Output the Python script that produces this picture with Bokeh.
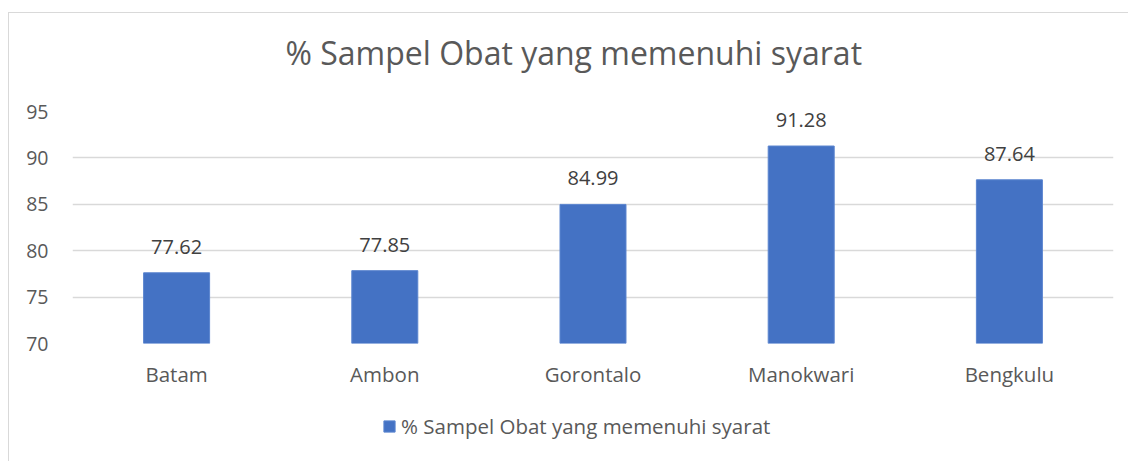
from bokeh.plotting import figure
from bokeh.models import ColumnDataSource, FixedTicker, Range1d, Legend, LegendItem, FactorRange
from bokeh.layouts import column
from bokeh.embed import file_html
from bokeh.resources import INLINE
from bokeh.core.properties import value

categories = ["Batam", "Ambon", "Gorontalo", "Manokwari", "Bengkulu"]
values = [77.62, 77.85, 84.99, 91.28, 87.64]
series_name = "% Sampel Obat yang memenuhi syarat"
chart_title = "% Sampel Obat yang memenuhi syarat"
y_ticks = [70, 75, 80, 85, 90, 95]
y_min, y_max = 70, 95

FONT = "Open Sans"
TEXT = "#595959"
BAR = "#4472C4"
BAR_EDGE = "#5b85cf"
GRID = "#d9d9d9"

src = ColumnDataSource(dict(
    cat=categories,
    val=values,
    lab=[f"{v:.2f}" for v in values],
))

p = figure(
    x_range=FactorRange(*categories, range_padding=0),
    y_range=Range1d(y_min, y_max),
    width=1119, height=382,
    output_backend="svg", toolbar_location=None,
    min_border_left=63, min_border_right=15,
    min_border_top=98, min_border_bottom=52,
)
p.outline_line_color = None
p.background_fill_color = "white"
p.border_fill_color = "white"

bars = p.vbar(x="cat", top="val", bottom=y_min, width=0.317, source=src,
              fill_color=BAR, line_color=BAR_EDGE, line_width=1)

p.text(x="cat", y="val", text="lab", source=src, text_align="center",
       text_baseline="alphabetic", y_offset=-26,
       text_font=value(FONT), text_font_size="20px", text_color="#404040")

p.title.text = chart_title
p.title.align = "left"
p.title.offset = 213
p.title.text_font = FONT
p.title.text_font_size = "32px"
p.title.text_font_style = "normal"
p.title.text_color = TEXT
p.title.standoff = 31
p.title.padding = (0, 0, 0, 22)   # left, right, top, bottom

p.yaxis.ticker = FixedTicker(ticks=y_ticks)
p.yaxis.axis_line_color = None
p.yaxis.major_tick_line_color = None
p.yaxis.minor_tick_line_color = None
p.yaxis.major_tick_out = 0
p.yaxis.major_tick_in = 0
p.yaxis.major_label_standoff = 24
p.yaxis.major_label_text_font = FONT
p.yaxis.major_label_text_font_size = "19.5px"
p.yaxis.major_label_text_color = TEXT

p.xaxis.axis_line_color = None
p.xaxis.major_tick_line_color = None
p.xaxis.minor_tick_line_color = None
p.xaxis.major_tick_out = 0
p.xaxis.major_tick_in = 0
p.xaxis.major_label_standoff = 16
p.xaxis.major_label_text_font = FONT
p.xaxis.major_label_text_font_size = "20.5px"
p.xaxis.major_label_text_color = TEXT

p.xgrid.grid_line_color = None
p.ygrid.grid_line_color = GRID
p.ygrid.grid_line_width = 1.5

# legend strip below the chart (the swatch renderer sits outside its visible range)
p2 = figure(width=1119, height=66, output_backend="svg", toolbar_location=None,
            x_axis_location=None, y_axis_location=None, min_border=0,
            min_border_left=0, min_border_right=0, min_border_top=0,
            min_border_bottom=0, x_range=Range1d(10, 11), y_range=Range1d(10, 11))
p2.outline_line_color = None
p2.xgrid.grid_line_color = None
p2.ygrid.grid_line_color = None
swatch = p2.vbar(x=[0], top=[1], width=0.317, fill_color=BAR, line_color=BAR_EDGE)

legend = Legend(items=[LegendItem(label=series_name, renderers=[swatch])],
                orientation="horizontal", location=(310, 21),
                label_text_font=FONT, label_text_font_size="20.5px",
                label_text_color=TEXT, glyph_width=14, glyph_height=14,
                label_standoff=5, border_line_color=None,
                padding=0, margin=0, background_fill_alpha=0)
p2.add_layout(legend)

layout = column(p, p2, spacing=0)
layout.styles = {"margin-left": "8px", "margin-top": "12px",
                 "border-left": "1px solid #d9d9d9", "border-top": "1px solid #d9d9d9"}

open("out.html", "w").write(file_html(layout, INLINE))
